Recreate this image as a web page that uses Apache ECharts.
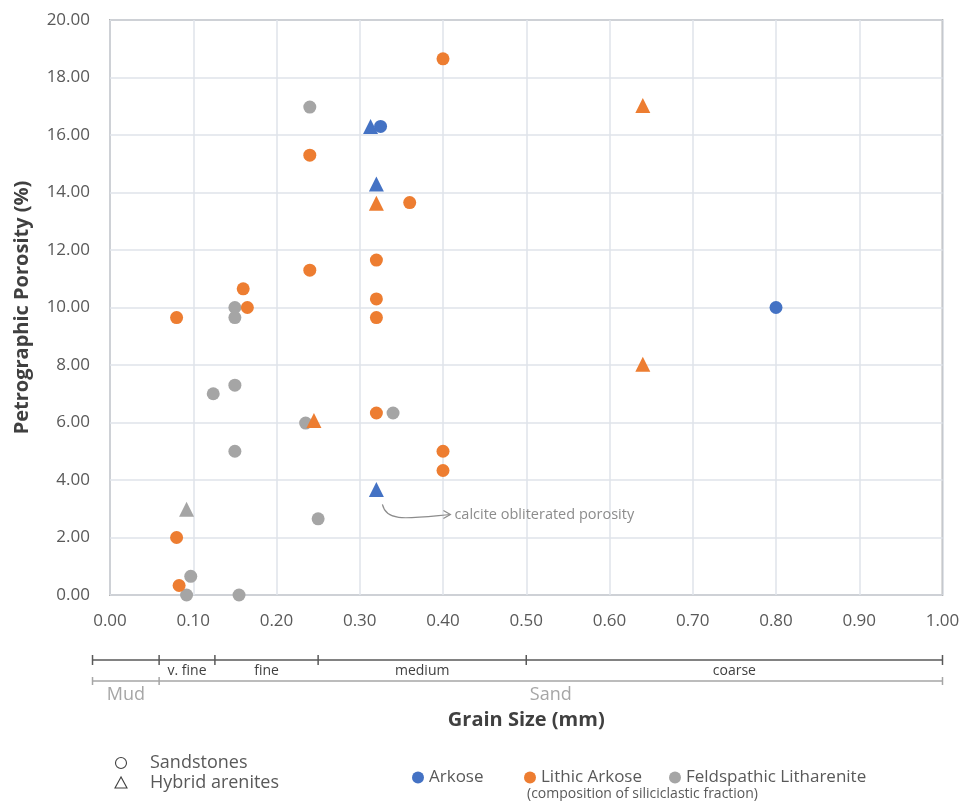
<!DOCTYPE html>
<html>
<head>
<meta charset="utf-8">
<script src="https://cdn.jsdelivr.net/npm/echarts@6/dist/echarts.min.js"></script>
<style>
  html, body { margin: 0; padding: 0; background: #fff; }
  #chart { width: 963px; height: 801px; }
</style>
</head>
<body>
<div id="chart"></div>
<script>
// [grain size (mm), petrographic porosity (%)]
const arkoseSandstone = [[0.325, 16.3], [0.8, 10.0]]
const arkoseHybrid = [[0.313, 16.3], [0.32, 14.3], [0.32, 3.67]]
const lithicSandstone = [
  [0.4, 18.65], [0.24, 15.3], [0.36, 13.65], [0.32, 11.65], [0.24, 11.3],
  [0.16, 10.65], [0.165, 10.0], [0.32, 10.3], [0.32, 9.65], [0.08, 9.65],
  [0.32, 6.33], [0.4, 5.0], [0.4, 4.33], [0.08, 2.0], [0.083, 0.33]
]
const lithicHybrid = [[0.64, 17.03], [0.64, 8.03], [0.32, 13.63], [0.245, 6.07]]
const feldSandstone = [
  [0.24, 16.97], [0.15, 10.0], [0.15, 9.65], [0.15, 7.3], [0.124, 7.0],
  [0.235, 5.98], [0.15, 5.0], [0.34, 6.33], [0.25, 2.65], [0.097, 0.65],
  [0.092, 0.0], [0.155, 0.0]
]
const feldHybrid = [[0.092, 2.98]]

const compositions = ['Arkose', 'Lithic Arkose', 'Feldspathic Litharenite']
const colors = ['#4472C4', '#ED7D31', '#A5A5A5']
const legendLeft = [407, 519, 664]

// grain size scale under the x axis
const sizeBounds = [-0.021, 0.059, 0.126, 0.25, 0.5, 1.0]
const sizeClasses = ['', 'v. fine', 'fine', 'medium', 'coarse']
const mudSandBounds = [-0.021, 0.059, 1.0]
const mudSandClasses = ['Mud', 'Sand']

const calcitePoint = [0.32, 3.67]
const calciteNote = 'calcite obliterated porosity'

const FONT = '"Open Sans", sans-serif'
const chart = echarts.init(document.getElementById('chart'))

function scatter(name, data, color, symbol, size) {
  return {
    name: name,
    type: 'scatter',
    data: data,
    symbol: symbol,
    symbolSize: size,
    itemStyle: { color: color, opacity: 1 },
    emphasis: { disabled: true }
  }
}

const option = {
  animation: false,
  backgroundColor: '#fff',
  textStyle: { fontFamily: FONT },
  grid: {
    left: 110, right: 20.5, top: 20, bottom: 206,
    outerBoundsMode: 'none', containLabel: false,
    show: true, borderColor: '#7a7a7a', borderWidth: 1.5
  },
  legend: compositions.map((name, i) => ({
    data: [name],
    left: legendLeft[i], top: 764,
    icon: 'circle', itemWidth: 12, itemHeight: 12,
    textStyle: { fontFamily: FONT, fontSize: 17, color: '#595959' }
  })),
  xAxis: {
    type: 'value', min: 0, max: 1, interval: 0.1,
    name: 'Grain Size (mm)', nameLocation: 'middle', nameGap: 115,
    nameTextStyle: { fontFamily: FONT, fontSize: 20, fontWeight: 'bold', color: '#404040' },
    axisLine: { show: false }, axisTick: { show: false },
    axisLabel: { formatter: v => v.toFixed(2), fontSize: 17, color: '#595959', margin: 18, fontFamily: FONT },
    splitLine: { lineStyle: { color: '#dfe3ea', width: 1.5 } }
  },
  yAxis: {
    type: 'value', min: 0, max: 20, interval: 2,
    name: 'Petrographic Porosity (%)', nameLocation: 'middle', nameGap: 78,
    nameTextStyle: { fontFamily: FONT, fontSize: 20, fontWeight: 'bold', color: '#404040' },
    axisLine: { show: false }, axisTick: { show: false },
    axisLabel: { formatter: v => v.toFixed(2), fontSize: 17, color: '#595959', margin: 20, fontFamily: FONT },
    splitLine: { lineStyle: { color: '#dfe3ea', width: 1.5 } }
  },
  series: [
    scatter('Feldspathic Litharenite', feldSandstone, colors[2], 'circle', 13),
    scatter('Feldspathic Litharenite hybrid', feldHybrid, colors[2], 'triangle', 15),
    scatter('Lithic Arkose', lithicSandstone, colors[1], 'circle', 13),
    scatter('Lithic Arkose hybrid', lithicHybrid, colors[1], 'triangle', 15),
    scatter('Arkose hybrid', arkoseHybrid, colors[0], 'triangle', 15),
    scatter('Arkose', arkoseSandstone, colors[0], 'circle', 13)
  ]
}

chart.setOption(option)

// annotations placed through the axis scale
function px(v) {
  return chart.convertToPixel({ xAxisIndex: 0 }, v)
}

const graphics = []
const barY = 660
const classY = 681

function scaleBar(bounds, labels, y, tickLen, stroke, labelY, labelStyle) {
  graphics.push({
    type: 'line',
    shape: { x1: px(bounds[0]), y1: y, x2: px(bounds[bounds.length - 1]), y2: y },
    style: { stroke: stroke, lineWidth: 1.5 }
  })
  bounds.forEach(b => {
    graphics.push({
      type: 'line',
      shape: { x1: px(b), y1: y - tickLen, x2: px(b), y2: y + tickLen },
      style: { stroke: stroke, lineWidth: 1.5 }
    })
  })
  labels.forEach((label, i) => {
    if (!label) return
    graphics.push({
      type: 'text',
      x: (px(bounds[i]) + px(bounds[i + 1])) / 2,
      y: labelY,
      style: Object.assign({ text: label, align: 'center', verticalAlign: 'middle' }, labelStyle)
    })
  })
}

scaleBar(sizeBounds, sizeClasses, barY, 5, '#595959', 671,
  { fill: '#404040', font: '14px ' + FONT })
scaleBar(mudSandBounds, mudSandClasses, classY, 4, '#a6a6a6', 695,
  { fill: '#a6a6a6', font: '18px ' + FONT })

// calcite arrow
const cp = chart.convertToPixel({ xAxisIndex: 0, yAxisIndex: 0 }, calcitePoint)
const sx = cp[0] + 6, sy = cp[1] + 15
const ex = sx + 68, ey = sy + 10
graphics.push({
  type: 'bezierCurve',
  shape: { x1: sx, y1: sy, cpx1: sx + 4, cpy1: sy + 18, cpx2: sx + 25, cpy2: ey + 4, x2: ex, y2: ey },
  style: { stroke: '#8c8c8c', lineWidth: 1.2, fill: null }
})
graphics.push({
  type: 'polyline',
  shape: { points: [[ex - 7, ey - 4], [ex, ey], [ex - 7, ey + 4]] },
  style: { stroke: '#8c8c8c', lineWidth: 1.2, fill: null }
})
graphics.push({
  type: 'text', x: ex + 4, y: ey,
  style: { text: calciteNote, fill: '#8c8c8c', font: '14.5px ' + FONT, verticalAlign: 'middle' }
})

// shape key
graphics.push({
  type: 'circle', shape: { cx: 121, cy: 763, r: 5.5 },
  style: { stroke: '#404040', lineWidth: 1.1, fill: null }
})
graphics.push({
  type: 'polygon', shape: { points: [[121, 777], [115, 788], [127, 788]] },
  style: { stroke: '#404040', lineWidth: 1.1, fill: null }
})
graphics.push({
  type: 'text', x: 150, y: 763,
  style: { text: 'Sandstones', fill: '#595959', font: '18px ' + FONT, verticalAlign: 'middle' }
})
graphics.push({
  type: 'text', x: 150, y: 783,
  style: { text: 'Hybrid arenites', fill: '#595959', font: '18px ' + FONT, verticalAlign: 'middle' }
})
graphics.push({
  type: 'text', x: 527, y: 794,
  style: { text: '(composition of siliciclastic fraction)', fill: '#595959', font: '14px ' + FONT, verticalAlign: 'middle' }
})

chart.setOption({ graphic: graphics })
</script>
</body>
</html>
